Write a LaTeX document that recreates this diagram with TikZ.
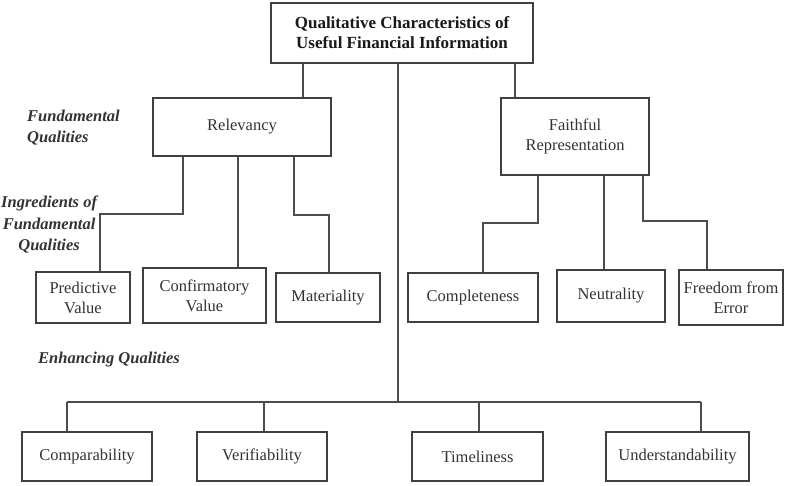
\documentclass[tikz,border=0pt]{standalone}
\usepackage{fontspec}
\setmainfont{Liberation Serif}
\begin{document}
\begin{tikzpicture}[x=1pt,y=-1pt,
  box/.style={draw=black!75,line width=1.3pt,rectangle,align=center,inner sep=1pt,
    text=black!80,font=\fontsize{16.5}{20}\selectfont},
  titlebox/.style={box,font=\fontsize{17}{20}\selectfont\bfseries,text=black!90},
  lbl/.style={font=\fontsize{16.5}{21.5}\selectfont\bfseries\itshape,text=black!80,inner sep=0pt},
  conn/.style={draw=black!70,line width=1.3pt}]
\useasboundingbox (0,0) rectangle (794,486);
\fill[white] (0,0) rectangle (794,486);
% boxes
\node[titlebox,minimum width=262,minimum height=60] (top) at (402,33) {Qualitative Characteristics of\\Useful Financial Information};
\node[box,minimum width=178,minimum height=58] (rel) at (242,127) {Relevancy};
\node[box,minimum width=148,minimum height=77] (fai) at (575,136.5) {Faithful\\Representation};
\node[box,minimum width=94,minimum height=51] (pre) at (83,297.5) {Predictive\\Value};
\node[box,minimum width=123,minimum height=55] (con) at (204.5,295.5) {Confirmatory\\Value};
\node[box,minimum width=104,minimum height=49] (mat) at (328,297.5) {Materiality};
\node[box,minimum width=130,minimum height=49] (cpl) at (473,297.5) {Completeness};
\node[box,minimum width=108,minimum height=52] (neu) at (611,296) {Neutrality};
\node[box,minimum width=104,minimum height=55] (fre) at (731,297.5) {Freedom from\\Error};
\node[box,minimum width=130,minimum height=49] (cmp) at (87,456.5) {Comparability};
\node[box,minimum width=130,minimum height=49] (ver) at (262,456.5) {Verifiability};
\node[box,minimum width=131,minimum height=49] (tim) at (477.5,456.5) {Timeliness};
\node[box,minimum width=143,minimum height=49] (und) at (677.5,456.5) {Understandability};
% labels
\node[lbl,align=left,anchor=west] (lfund) at (27,127.5) {Fundamental\\Qualities};
\node[lbl,align=center,anchor=west] (ling) at (1,225) {Ingredients of\\Fundamental\\Qualities};
\node[lbl,anchor=west] (lenh) at (38,360) {Enhancing Qualities};
% branch coordinates
\coordinate (t1) at (303,0);
\coordinate (t2) at (515,0);
\coordinate (tm) at (398,0);
\coordinate (bus) at (0,402);
\coordinate (r1) at (183,214);
\coordinate (r1b) at (100,214);
\coordinate (r2) at (238,0);
\coordinate (r3) at (294,215);
\coordinate (r3b) at (329,215);
\coordinate (f1) at (538,223);
\coordinate (f1b) at (483,223);
\coordinate (f2) at (604,0);
\coordinate (f3) at (643,221);
\coordinate (f3b) at (707,221);
\coordinate (e1) at (67,402);
\coordinate (e2) at (264,402);
\coordinate (e3) at (479,402);
\coordinate (e4) at (701,402);
% connectors
\draw[conn] (top.south -| t1) -- (rel.north -| t1);
\draw[conn] (top.south -| t2) -- (fai.north -| t2);
\draw[conn] (top.south -| tm) -- (bus -| tm);
\draw[conn] (e1) -- (e4);
\draw[conn] (e1) -- (cmp.north -| e1);
\draw[conn] (e2) -- (ver.north -| e2);
\draw[conn] (e3) -- (tim.north -| e3);
\draw[conn] (e4) -- (und.north -| e4);
\draw[conn] (rel.south -| r1) -- (r1) -- (r1b) -- (pre.north -| r1b);
\draw[conn] (rel.south -| r2) -- (con.north -| r2);
\draw[conn] (rel.south -| r3) -- (r3) -- (r3b) -- (mat.north -| r3b);
\draw[conn] (fai.south -| f1) -- (f1) -- (f1b) -- (cpl.north -| f1b);
\draw[conn] (fai.south -| f2) -- (neu.north -| f2);
\draw[conn] (fai.south -| f3) -- (f3) -- (f3b) -- (fre.north -| f3b);
\end{tikzpicture}
\end{document}
